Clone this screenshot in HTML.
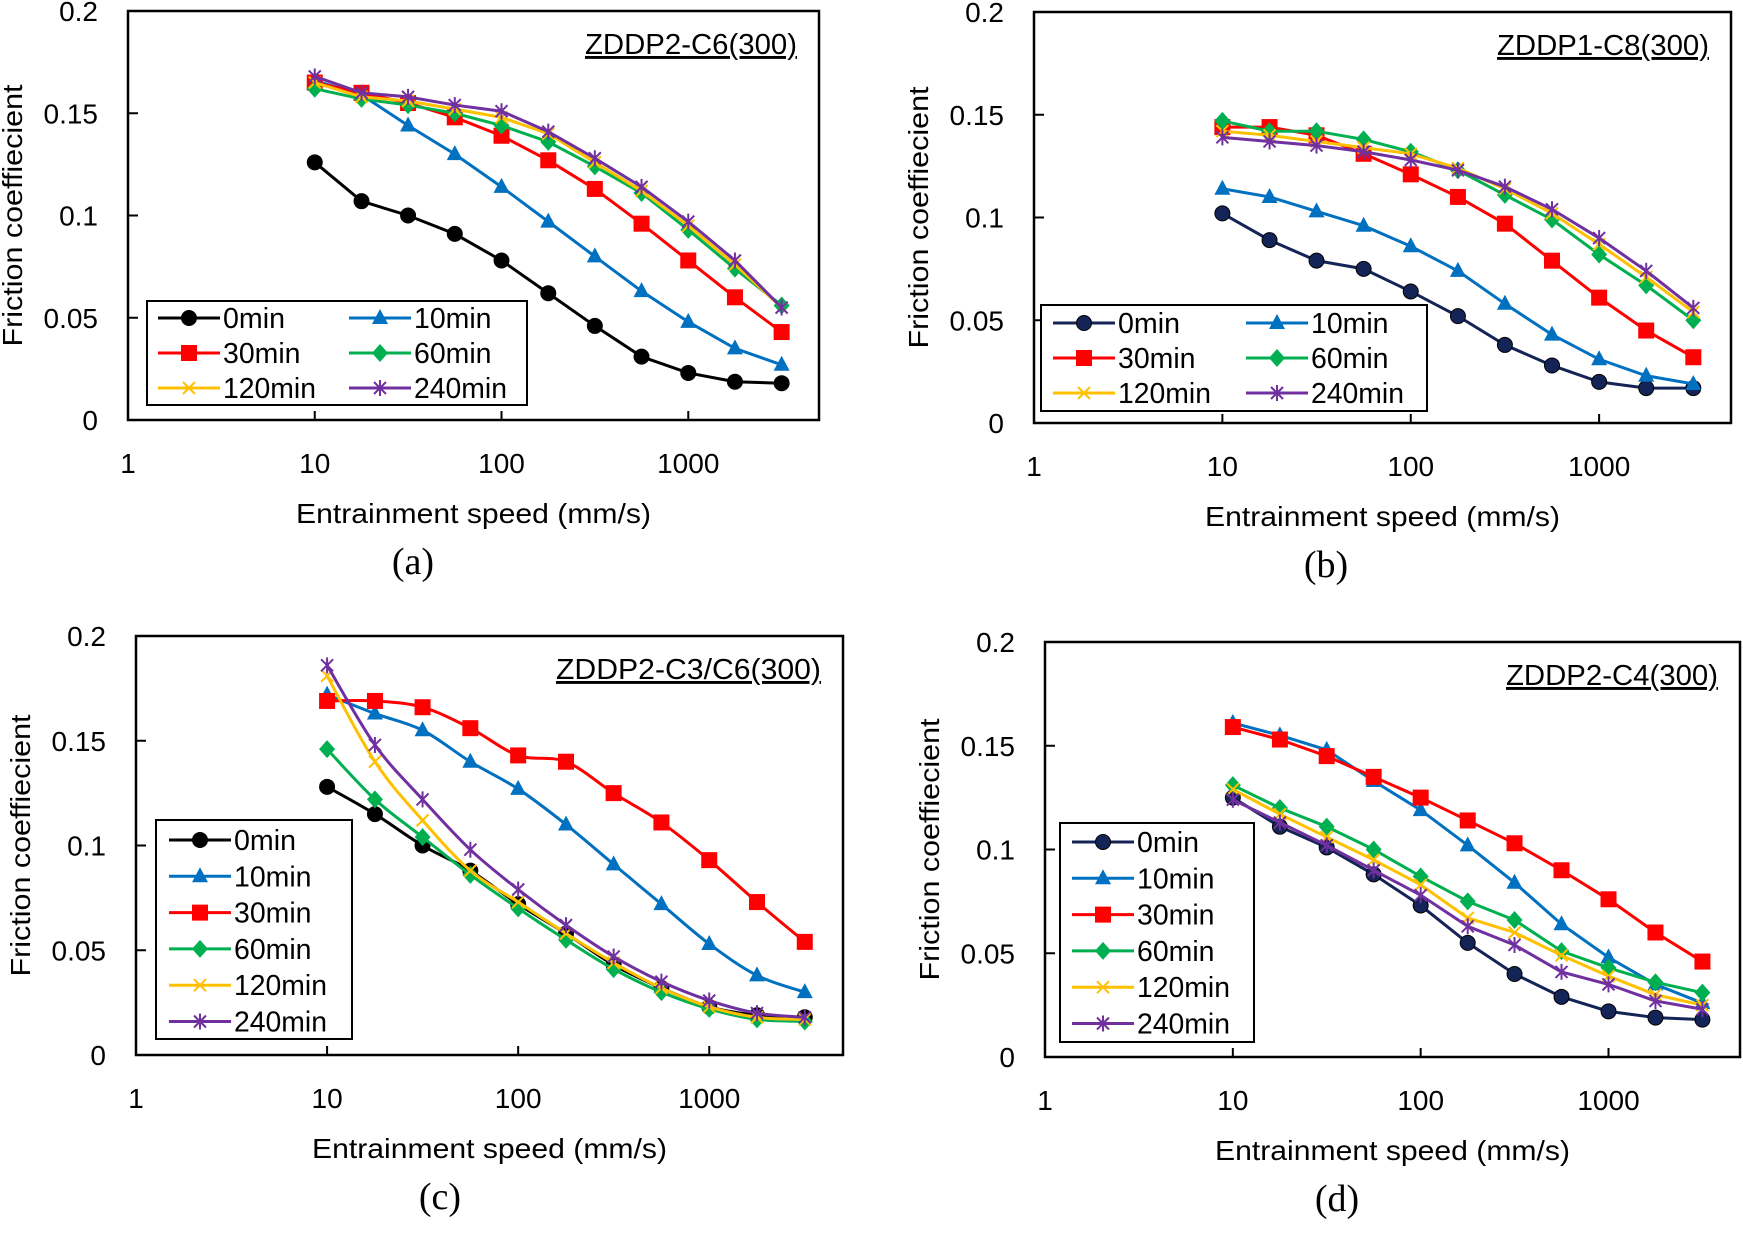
<!DOCTYPE html>
<html><head><meta charset="utf-8">
<style>
html,body{margin:0;padding:0;background:#fff;}
svg{display:block;}
text{font-family:"Liberation Sans",sans-serif;fill:#000;}
.serif{font-family:"Liberation Serif",serif;}
</style></head>
<body>
<svg id="fig" width="1743" height="1233" viewBox="0 0 1743 1233" xmlns="http://www.w3.org/2000/svg"></svg>
<script>
// shared x values (mm/s)
const speeds = [10, 17.8, 31.6, 56.2, 100, 178, 316, 562, 1000, 1778, 3162];
const seriesNames = ["0min","10min","30min","60min","120min","240min"];
const xTickLabels = ["1","10","100","1000"];
const yTickLabels = ["0","0.05","0.1","0.15","0.2"];

const aT0 = [0.126,0.107,0.100,0.091,0.078,0.062,0.046,0.031,0.023,0.0187,0.018];
const aT10 = [0.166,0.159,0.144,0.130,0.114,0.097,0.080,0.063,0.048,0.035,0.027];
const aT30 = [0.165,0.160,0.155,0.148,0.139,0.127,0.113,0.096,0.078,0.060,0.043];
const aT60 = [0.162,0.157,0.154,0.150,0.144,0.136,0.124,0.111,0.093,0.074,0.056];
const aT120 = [0.165,0.158,0.156,0.152,0.148,0.140,0.126,0.112,0.095,0.076,0.055];
const aT240 = [0.168,0.160,0.158,0.154,0.151,0.141,0.128,0.114,0.097,0.078,0.055];

const bT0 = [0.102,0.089,0.079,0.075,0.064,0.052,0.038,0.028,0.020,0.017,0.017];
const bT10 = [0.114,0.110,0.103,0.096,0.086,0.074,0.058,0.043,0.031,0.023,0.019];
const bT30 = [0.144,0.144,0.140,0.131,0.121,0.110,0.097,0.079,0.061,0.045,0.032];
const bT60 = [0.147,0.142,0.142,0.138,0.132,0.123,0.111,0.099,0.082,0.067,0.050];
const bT120 = [0.142,0.140,0.137,0.134,0.131,0.124,0.114,0.102,0.087,0.071,0.054];
const bT240 = [0.139,0.137,0.135,0.132,0.128,0.123,0.115,0.104,0.090,0.074,0.056];

const cT0 = [0.128,0.115,0.100,0.088,0.072,0.058,0.043,0.032,0.023,0.019,0.018];
const cT10 = [0.172,0.163,0.155,0.140,0.127,0.110,0.091,0.072,0.053,0.038,0.030];
const cT30 = [0.169,0.169,0.166,0.156,0.143,0.140,0.125,0.111,0.093,0.073,0.054];
const cT60 = [0.146,0.122,0.104,0.086,0.070,0.055,0.041,0.030,0.022,0.017,0.016];
const cT120 = [0.181,0.140,0.112,0.088,0.073,0.058,0.044,0.032,0.023,0.018,0.017];
const cT240 = [0.186,0.148,0.122,0.098,0.079,0.062,0.047,0.035,0.026,0.020,0.018];

const dT0 = [0.125,0.111,0.101,0.088,0.073,0.055,0.040,0.029,0.022,0.019,0.018];
const dT10 = [0.161,0.155,0.148,0.133,0.119,0.102,0.084,0.064,0.048,0.035,0.026];
const dT30 = [0.159,0.153,0.145,0.135,0.125,0.114,0.103,0.090,0.076,0.060,0.046];
const dT60 = [0.131,0.120,0.111,0.100,0.087,0.075,0.066,0.051,0.043,0.036,0.031];
const dT120 = [0.129,0.117,0.106,0.095,0.083,0.067,0.060,0.049,0.039,0.030,0.025];
const dT240 = [0.124,0.113,0.102,0.090,0.078,0.063,0.054,0.041,0.035,0.027,0.023];

const NS = "http://www.w3.org/2000/svg";
const svg = document.getElementById("fig");
function mk(tag, attrs, parent){
  const e = document.createElementNS(NS, tag);
  for (const k in attrs) e.setAttribute(k, attrs[k]);
  (parent||svg).appendChild(e);
  return e;
}
const colors = ["#000000","#0070c0","#ff0000","#00b050","#ffc000","#7030a0"];
const markers = ["circle","triangle","square","diamond","cross","star"];

function marker(g, type, x, y, col){
  let m;
  if (type==="circle"){ m = mk("circle",{cx:x,cy:y,r:7.5,fill:col,stroke:"#000","stroke-width":1},g); }
  else if (type==="square"){ m = mk("rect",{x:x-8,y:y-8,width:16,height:16,fill:col},g); }
  else if (type==="triangle"){ m = mk("polygon",{points:`${x},${y-9} ${x+8},${y+6} ${x-8},${y+6}`,fill:col},g); }
  else if (type==="diamond"){ m = mk("polygon",{points:`${x},${y-9} ${x+8},${y} ${x},${y+9} ${x-8},${y}`,fill:col},g); }
  else if (type==="cross"){ m = mk("path",{d:`M${x-6},${y-6}L${x+6},${y+6}M${x+6},${y-6}L${x-6},${y+6}`,stroke:col,"stroke-width":2,fill:"none"},g); }
  else { m = mk("path",{d:`M${x-6},${y-6}L${x+6},${y+6}M${x+6},${y-6}L${x-6},${y+6}M${x},${y-8}L${x},${y+8}`,stroke:col,"stroke-width":2,fill:"none"},g); }
  
  
}

function smoothPath(pts){
  let d = `M${pts[0][0]},${pts[0][1]}`;
  for (let i=0;i<pts.length-1;i++){
    const p0 = pts[i-1]||pts[i], p1=pts[i], p2=pts[i+1], p3=pts[i+2]||pts[i+1];
    const c1x = p1[0]+(p2[0]-p0[0])/6, c1y = p1[1]+(p2[1]-p0[1])/6;
    const c2x = p2[0]-(p3[0]-p1[0])/6, c2y = p2[1]-(p3[1]-p1[1])/6;
    d += `C${c1x},${c1y} ${c2x},${c2y} ${p2[0]},${p2[1]}`;
  }
  return d;
}

function panel(cfg){
  const g = mk("g",{});
  
  
  const L=cfg.L, R=cfg.R, T=cfg.T, B=cfg.B;
  const xs = v => L + Math.log10(v)/3.7*(R-L);
  const ys = v => B - v/0.2*(B-T);
  const box = mk("rect",{x:L,y:T,width:R-L,height:B-T,fill:"none",stroke:"#000","stroke-width":2.5},g);
  
  
  xTickLabels.forEach((lab,i)=>{
    const x = xs(Math.pow(10,i));
    if (i>0) mk("line",{x1:x,y1:B,x2:x,y2:B-9,stroke:"#000","stroke-width":2},g);
    const t = mk("text",{x:x,y:B+53,"text-anchor":"middle","font-size":28},g);
    t.textContent = lab;
    
    
  });
  yTickLabels.forEach((lab,i)=>{
    const v = i*0.05, y = ys(v);
    if (i>0 && i<4) mk("line",{x1:L,y1:y,x2:L+10,y2:y,stroke:"#000","stroke-width":2},g);
    const t = mk("text",{x:L-30,y:y+10,"text-anchor":"end","font-size":28},g);
    t.textContent = lab;
    
    
  });
  const xt = mk("text",{x:(L+R)/2,y:B+103,"text-anchor":"middle","font-size":28,textLength:355,lengthAdjust:"spacingAndGlyphs"},g);
  xt.textContent = "Entrainment speed (mm/s)";
  
  
  const yc = (T+B)/2;
  const yx = L-106;
  const yt = mk("text",{x:yx,y:yc,"text-anchor":"middle","font-size":28,textLength:262,lengthAdjust:"spacingAndGlyphs",transform:`rotate(-90 ${yx} ${yc})`},g);
  yt.textContent = "Friction coeffiecient";
  
  
  const tt = mk("text",{x:R-22,y:T+43,"text-anchor":"end","font-size":29,"text-decoration":"underline",textLength:cfg.titleLen,lengthAdjust:"spacingAndGlyphs"},g);
  tt.textContent = cfg.title;
  
  
  const pl = mk("text",{x:cfg.labelX,y:B+154,"text-anchor":"middle","font-size":38,"class":"serif"},g);
  pl.textContent = cfg.label;
  
  

  cfg.series.forEach((vals,si)=>{
    const col = (si===0 && cfg.navy) ? "#142456" : colors[si];
    const sg = mk("g",{},g);
    
    
    const pts = vals.map((v,i)=>[xs(speeds[i]), ys(v)]);
    const d = cfg.smooth ? smoothPath(pts) : "M"+pts.map(p=>p[0]+","+p[1]).join("L");
    const ln = mk("path",{d:d,fill:"none",stroke:col,"stroke-width":3},sg);
    
    
    pts.forEach(p=>marker(sg, markers[si], p[0], p[1], col));
  });

  const lg = cfg.legend;
  const leg = mk("g",{},g);
  
  
  mk("rect",{x:lg.x,y:lg.y,width:lg.w,height:lg.h,fill:"#fff",stroke:"#000","stroke-width":2},leg);
  seriesNames.forEach((nm,si)=>{
    const col = (si===0 && cfg.navy) ? "#142456" : colors[si];
    const r = lg.cols===2 ? Math.floor(si/2) : si;
    const c = lg.cols===2 ? si%2 : 0;
    const y = lg.y + lg.first + r*lg.dy;
    const x0 = lg.x + lg.lx + c*lg.cw;
    const e = mk("g",{},leg);
    
    
    mk("line",{x1:x0,y1:y,x2:x0+62,y2:y,stroke:col,"stroke-width":3},e);
    marker(e, markers[si], x0+31, y, col);
    const t = mk("text",{x:x0+65,y:y+10,"font-size":29,textLength:nm.length*15.5,lengthAdjust:"spacingAndGlyphs"},e);
    t.textContent = nm;
  });
}

panel({id:"a",label:"(a)",labelX:413,title:"ZDDP2-C6(300)",titleLen:212,L:128,R:819,T:11,B:420,
  series:[aT0,aT10,aT30,aT60,aT120,aT240],
  legend:{x:147,y:301,w:380,h:104,cols:2,first:17,dy:35,lx:11,cw:191}});
panel({id:"b",label:"(b)",labelX:1326,title:"ZDDP1-C8(300)",titleLen:212,L:1034,R:1731,T:12,B:423,navy:true,
  series:[bT0,bT10,bT30,bT60,bT120,bT240],
  legend:{x:1041,y:305,w:386,h:106,cols:2,first:18,dy:35,lx:12,cw:193}});
panel({id:"c",label:"(c)",labelX:440,title:"ZDDP2-C3/C6(300)",titleLen:265,L:136,R:843,T:636,B:1055,smooth:true,
  series:[cT0,cT10,cT30,cT60,cT120,cT240],
  legend:{x:156,y:820,w:196,h:219,cols:1,first:20,dy:36.3,lx:13,cw:0}});
panel({id:"d",label:"(d)",labelX:1337,title:"ZDDP2-C4(300)",titleLen:212,L:1045,R:1740,T:642,B:1057,navy:true,
  series:[dT0,dT10,dT30,dT60,dT120,dT240],
  legend:{x:1060,y:823,w:194,h:219,cols:1,first:19,dy:36.3,lx:12,cw:0}});
</script>
</body></html>
